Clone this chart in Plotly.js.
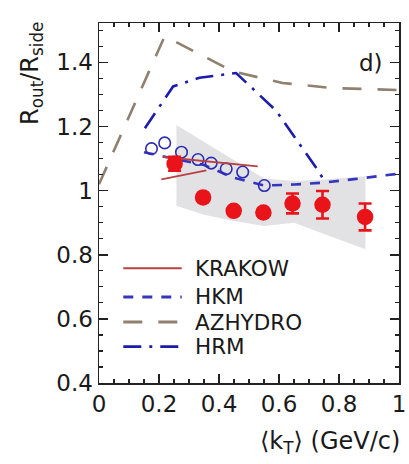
<!DOCTYPE html>
<html>
<head>
<meta charset="utf-8">
<script src="https://cdn.plot.ly/plotly-3.0.1.min.js"></script>
<style>html,body{margin:0;padding:0;background:#fff;}</style>
</head>
<body>
<div id="chart" style="width:409px;height:464px;"></div>
<script>
// ---- data ----
var redX   = [0.252, 0.347, 0.449, 0.548, 0.645, 0.745, 0.887];
var redY   = [1.084, 0.979, 0.937, 0.932, 0.960, 0.956, 0.918];
var redErr = [0.022, 0.010, 0.010, 0.010, 0.031, 0.043, 0.042];

var openX = [0.175, 0.219, 0.275, 0.330, 0.374, 0.424, 0.479, 0.551];
var openY = [1.131, 1.149, 1.120, 1.097, 1.086, 1.068, 1.058, 1.016];

var bandX     = [0.258, 0.350, 0.450, 0.550, 0.650, 0.750, 0.888];
var bandUpper = [1.205, 1.152, 1.095, 1.038, 1.030, 1.035, 1.045];
var bandLower = [0.953, 0.925, 0.905, 0.890, 0.900, 0.865, 0.817];

var krakowAX = [0.208, 0.358];
var krakowAY = [1.035, 1.063];
var krakowBX = [0.213, 0.529];
var krakowBY = [1.105, 1.076];

var hkmX = [0.15, 0.25, 0.35, 0.45, 0.50, 0.55, 0.65, 0.75, 0.85, 0.95, 1.00];
var hkmY = [1.120, 1.100, 1.080, 1.040, 1.028, 1.016, 1.019, 1.025, 1.036, 1.047, 1.053];

var azX = [0.00, 0.219, 0.446, 0.612, 0.778, 1.00];
var azY = [1.020, 1.482, 1.372, 1.336, 1.320, 1.314];

var hrmX = [0.153, 0.247, 0.335, 0.457, 0.590, 0.734, 0.756];
var hrmY = [1.195, 1.325, 1.352, 1.367, 1.250, 1.058, 1.021];

var xTicks = [0, 0.2, 0.4, 0.6, 0.8, 1];
var xTickText = ['0', '0.2', '0.4', '0.6', '0.8', '1'];
var yTicks = [0.4, 0.6, 0.8, 1, 1.2, 1.4];
var yTickText = ['0.4', '0.6', '0.8', '1', '1.2', '1.4'];

var legendNames = ['KRAKOW', 'HKM', 'AZHYDRO', 'HRM'];

// ---- styles ----
var FONT = 'DejaVu Sans, Liberation Sans, Arial, sans-serif';
var TXT = '#1a1a1a';
var C_KRK = '#b84040', C_HKM = '#3535c0', C_AZ = '#908070', C_HRM = '#1c1caa';
var D_HKM = '10px,9px', D_AZ = '19px,16px', D_HRM = '18px,8px,3px,8px';

var bandPolyX = bandX.concat(bandX.slice().reverse());
var bandPolyY = bandUpper.concat(bandLower.slice().reverse());

var traces = [
  {x: bandPolyX, y: bandPolyY, type: 'scatter', mode: 'lines', fill: 'toself',
   fillcolor: '#e2e2e4', line: {width: 0, color: '#e2e2e4'}, showlegend: false, hoverinfo: 'skip'},
  {x: hkmX, y: hkmY, type: 'scatter', mode: 'lines', name: legendNames[1], showlegend: false,
   line: {color: C_HKM, width: 2.6, dash: D_HKM}},
  {x: azX, y: azY, type: 'scatter', mode: 'lines', name: legendNames[2], showlegend: false,
   line: {color: C_AZ, width: 2.6, dash: D_AZ}},
  {x: hrmX, y: hrmY, type: 'scatter', mode: 'lines', name: legendNames[3], showlegend: false,
   line: {color: C_HRM, width: 2.6, dash: D_HRM}},
  {x: openX, y: openY, type: 'scatter', mode: 'markers', showlegend: false,
   marker: {symbol: 'circle-open', size: 11.5, color: '#2c2cb4', line: {width: 1.6, color: '#2c2cb4'}}},
  {x: krakowAX, y: krakowAY, type: 'scatter', mode: 'lines', name: legendNames[0], showlegend: false,
   line: {color: C_KRK, width: 1.8}},
  {x: krakowBX, y: krakowBY, type: 'scatter', mode: 'lines', name: legendNames[0], showlegend: false,
   line: {color: C_KRK, width: 1.8}},
  {x: redX, y: redY, type: 'scatter', mode: 'markers', showlegend: false,
   marker: {symbol: 'circle', size: 16.5, color: '#e8141a'},
   error_y: {type: 'data', array: redErr, visible: true, color: '#e8141a', thickness: 2.6, width: 6.5}}
];

var axisCommon = {
  showline: true, linecolor: '#222', linewidth: 1.5, mirror: 'ticks',
  ticks: 'inside', ticklen: 9, tickwidth: 1.5, tickcolor: '#222',
  showgrid: false, zeroline: false,
  tickfont: {family: FONT, size: 23, color: TXT},
  minor: {ticks: 'inside', ticklen: 4, tickwidth: 1.2, tickcolor: '#222', dtick: 0.05, showgrid: false}
};

// manual legend (long line samples as in the reference)
var legColors = [C_KRK, C_HKM, C_AZ, C_HRM];
var legDash = ['solid', D_HKM, D_AZ, D_HRM];
var legY = [0.3186, 0.2389, 0.1694, 0.1008];
var shapes = [], annotations = [];
for (var i = 0; i < legendNames.length; i++) {
  shapes.push({type: 'line', xref: 'paper', yref: 'paper', x0: 0.081, x1: 0.2757, y0: legY[i], y1: legY[i],
               line: {color: legColors[i], width: i === 0 ? 2 : 2.8, dash: legDash[i]}});
  annotations.push({text: legendNames[i], xref: 'paper', yref: 'paper', x: 0.312, y: legY[i],
                    xanchor: 'left', yanchor: 'middle', showarrow: false,
                    font: {family: FONT, size: 21.5, color: TXT}});
}
annotations.push(
  {text: 'R<sub>out</sub>/R<sub>side</sub>', xref: 'paper', yref: 'paper', x: -0.225, y: 0.86,
   textangle: -90, showarrow: false, xanchor: 'center', yanchor: 'middle',
   font: {family: FONT, size: 24, color: TXT}},
  {text: 'd)', xref: 'paper', yref: 'paper', x: 0.908, y: 0.889, showarrow: false,
   xanchor: 'center', yanchor: 'middle', font: {family: FONT, size: 23, color: TXT}},
  {text: '⟨k<sub>T</sub>⟩ (GeV/c)', xref: 'paper', yref: 'paper', x: 1.01, y: -0.165,
   showarrow: false, xanchor: 'right', yanchor: 'middle', font: {family: FONT, size: 24, color: TXT}}
);

var layout = {
  width: 409, height: 464,
  margin: {l: 99, r: 10, t: 23, b: 81},
  paper_bgcolor: '#fff', plot_bgcolor: '#fff',
  showlegend: false,
  xaxis: Object.assign({}, axisCommon, {range: [0, 1], tickmode: 'array', tickvals: xTicks, ticktext: xTickText}),
  yaxis: Object.assign({}, axisCommon, {range: [0.4, 1.523], tickmode: 'array', tickvals: yTicks, ticktext: yTickText}),
  shapes: shapes,
  annotations: annotations
};

Plotly.newPlot('chart', traces, layout, {displayModeBar: false, staticPlot: true});
</script>
</body>
</html>
